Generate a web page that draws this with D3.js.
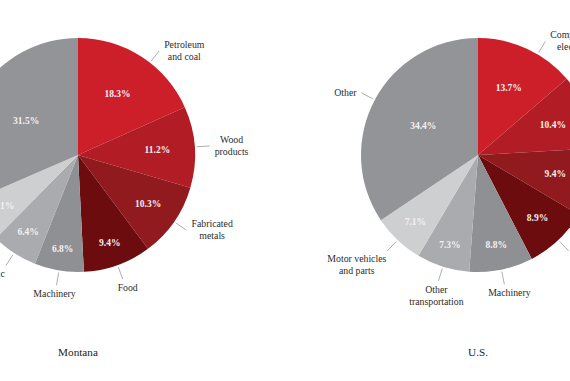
<!DOCTYPE html>
<html><head><meta charset="utf-8">
<script src="https://cdn.jsdelivr.net/npm/d3@7"></script>
<style>html,body{margin:0;padding:0;background:#fff;overflow:hidden;}</style>
</head><body><svg id="chart" width="570" height="381"></svg>
<script>
// ---- data ----
const montanaLabels = [["Petroleum","and coal"],["Wood","products"],["Fabricated","metals"],["Food"],["Machinery"],["Nonmetallic","minerals"],["Primary","metals"],["Other"]];
const montanaValues = [18.3, 11.2, 10.3, 9.4, 6.8, 6.4, 6.1, 31.5];
const usLabels = [["Computer and","electronics"],["Chemicals"],["Fabricated","metals"],["Food"],["Machinery"],["Other","transportation"],["Motor vehicles","and parts"],["Other"]];
const usValues = [13.7, 10.4, 9.4, 8.9, 8.8, 7.3, 7.1, 34.4];
const titles = ["Montana", "U.S."];

// ---- style / layout ----
const colors = ["#cd1f29","#b11c25","#911a1e","#6c0c0f","#8f9094","#aaabae","#cecfd1","#939498"];
const montanaLabelR = [0.62,0.68,0.73,0.80,0.81,0.78,0.77,0.53];
const usLabelR = [0.63,0.69,0.68,0.74,0.78,0.80,0.78,0.53];
const R = 117;
const serif = "'Liberation Serif','Times New Roman',serif";
const svg = d3.select("#chart");

function drawPie(cx, cy, labels, values, labelR, title, leaderOffset0) {
  const g = svg.append("g").attr("transform", `translate(${cx},${cy})`);
  const pie = d3.pie().sort(null).value(d => d)(values);
  const arc = d3.arc().innerRadius(0).outerRadius(R);
  g.selectAll("path.slice").data(pie).join("path")
    .attr("class","slice").attr("d", arc).attr("fill", (d,i) => colors[i]);

  // percentage labels
  pie.forEach((d,i) => {
    const a = (d.startAngle + d.endAngle)/2;
    const r = R*labelR[i];
    g.append("text").attr("x", r*Math.sin(a)).attr("y", -r*Math.cos(a))
      .attr("text-anchor","middle").attr("dy","0.35em")
      .attr("font-family", serif).attr("font-weight","bold").attr("font-size","9.5px")
      .attr("fill","#f4f0f0").text(values[i].toFixed(1) + "%");
  });

  // outside labels with leader lines
  pie.forEach((d,i) => {
    let a = (d.startAngle + d.endAngle)/2;
    if (i === 0) a += leaderOffset0*Math.PI/180;
    const r1 = R + 2, r2 = R + 15;
    const x1 = r1*Math.sin(a), y1 = -r1*Math.cos(a);
    const x2 = r2*Math.sin(a), y2 = -r2*Math.cos(a);
    g.append("line").attr("x1",x1).attr("y1",y1).attr("x2",x2).attr("y2",y2)
      .attr("stroke","#a5a5a5").attr("stroke-width",0.9);
    const lines = labels[i];
    const lh = 12;
    const t = g.append("text").attr("font-family", serif).attr("font-size","9.8px")
      .attr("fill","#2b2b2b").attr("text-anchor","middle");
    const spans = lines.map((s,k) => t.append("tspan").text(s));
    const widths = spans.map(s => s.node().getComputedTextLength());
    const W = d3.max(widths);
    const H = lines.length*lh;
    const deg = (a*180/Math.PI + 360) % 360;
    let cxT, topY;
    if (deg > 15 && deg < 155) { cxT = x2 + 5 + W/2; topY = y2 - H/2; }
    else if (deg >= 155 && deg <= 205) { cxT = x2 + (deg < 180 ? 5 : -2); topY = y2 + 3; }
    else if (deg > 205 && deg < 260) { cxT = x2 - W/2 - 1; topY = y2 + 2; }
    else { cxT = x2 - 5 - W/2; topY = y2 - H/2; }
    spans.forEach((s,k) => s.attr("x", cxT).attr("y", topY + lh*k + 9));
  });

  svg.append("text").attr("x", cx).attr("y", 356).attr("text-anchor","middle")
    .attr("font-family", serif).attr("font-size","11.2px").attr("fill","#222").text(title);
}

drawPie(78, 155, montanaLabels, montanaValues, montanaLabelR, titles[0], 5);
drawPie(478, 155, usLabels, usValues, usLabelR, titles[1], 6);
</script>
</body></html>
